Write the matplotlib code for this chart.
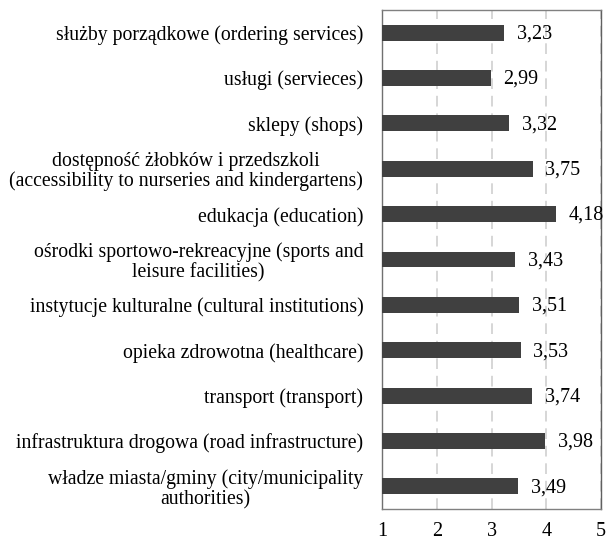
import matplotlib

matplotlib.use("Agg")

import matplotlib.pyplot as plt

CATEGORIES = [
    "służby porządkowe (ordering services)",
    "usługi (servieces)",
    "sklepy (shops)",
    "dostępność żłobków i przedszkoli\n(accessibility to nurseries and kindergartens)",
    "edukacja (education)",
    "ośrodki sportowo-rekreacyjne (sports and\nleisure facilities)",
    "instytucje kulturalne (cultural institutions)",
    "opieka zdrowotna (healthcare)",
    "transport (transport)",
    "infrastruktura drogowa (road infrastructure)",
    "władze miasta/gminy (city/municipality\nauthorities)",
]
VALUES = [3.23, 2.99, 3.32, 3.75, 4.18, 3.43, 3.51, 3.53, 3.74, 3.98, 3.49]
X_TICKS = [1, 2, 3, 4, 5]

FS = 14.2

plt.rcParams["font.family"] = ["Liberation Serif", "DejaVu Serif"]

fig = plt.figure(figsize=(6.07, 5.39), dpi=100)
ax = fig.add_axes([382 / 607, 30 / 539, 219 / 607, 499 / 539])

y = list(range(len(CATEGORIES)))
ax.barh(y, [v - 1 for v in VALUES], left=1, height=0.35, color="#404040", zorder=3)

for yi, v in zip(y, VALUES):
    ax.annotate(f"{v:.2f}".replace(".", ","), xy=(v, yi), xytext=(9, -1),
                textcoords="offset points", va="center", ha="left",
                fontsize=14.5, zorder=4)

ax.set_xlim(1, 5)
ax.set_ylim(len(CATEGORIES) - 0.5, -0.5)
ax.set_xticks(X_TICKS)
ax.set_xticklabels([str(t) for t in X_TICKS], fontsize=14.5)
ax.set_yticks(y)
ax.set_yticklabels(CATEGORIES, fontsize=FS, multialignment="center", linespacing=1.05)
ax.tick_params(axis="both", length=0)
ax.tick_params(axis="y", pad=13.5)
ax.tick_params(axis="x", pad=9)

ax.grid(axis="x", color="#d6d6d6", linestyle=(0, (5.5, 3.5)), linewidth=1.4, zorder=0)
for name, spine in ax.spines.items():
    spine.set_color("#808080")
    spine.set_linewidth(1.0)
ax.spines["left"].set_color("#707070")
ax.spines["right"].set_color("#606060")

fig.savefig("out.png", dpi=100)
